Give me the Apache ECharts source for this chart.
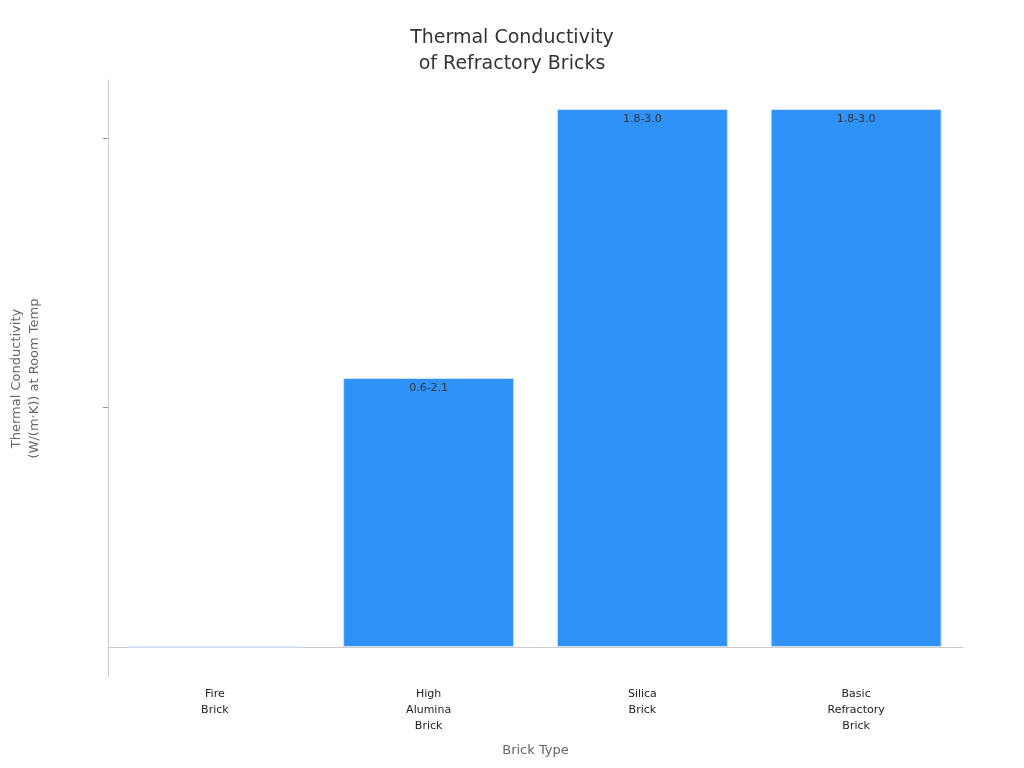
<!DOCTYPE html>
<html>
<head>
<meta charset="utf-8">
<script src="https://cdn.jsdelivr.net/npm/echarts@6/dist/echarts.min.js"></script>
<style>html,body{margin:0;padding:0;background:#fff}#chart{width:1024px;height:768px}</style>
</head>
<body>
<div id="chart"></div>
<script>
var categories = ['Fire\nBrick', 'High\nAlumina\nBrick', 'Silica\nBrick', 'Basic\nRefractory\nBrick'];
var levelLabels = ['0.3-0.7', '0.6-2.1', '1.8-3.0'];
var levels = [0, 1, 2, 2];

var chart = echarts.init(document.getElementById('chart'));
chart.setOption({
    title: {
        text: 'Thermal Conductivity\nof Refractory Bricks',
        left: 'center',
        top: 20,
        textStyle: {fontFamily: 'DejaVu Sans', fontSize: 19, fontWeight: 'normal', color: '#333', lineHeight: 26}
    },
    grid: {left: 107, right: 61, top: 80, bottom: 91},
    xAxis: {
        type: 'category',
        data: categories,
        name: 'Brick Type',
        nameLocation: 'middle',
        nameGap: 67,
        nameTextStyle: {fontFamily: 'DejaVu Sans', fontSize: 13, color: '#666'},
        axisLine: {lineStyle: {color: '#ccc'}},
        axisTick: {alignWithLabel: true, lineStyle: {color: '#999'}},
        axisLabel: {fontFamily: 'DejaVu Sans', fontSize: 11, color: '#222', lineHeight: 16, margin: 9}
    },
    yAxis: {
        type: 'value',
        min: -0.1115,
        max: 2.108,
        interval: 1,
        name: 'Thermal Conductivity\n(W/(m·K)) at Room Temp',
        nameLocation: 'middle',
        nameGap: 64,
        nameTextStyle: {fontFamily: 'DejaVu Sans', fontSize: 13, color: '#666', lineHeight: 18},
        splitLine: {show: false},
        axisLine: {show: true, lineStyle: {color: '#ccc'}},
        axisTick: {show: true, lineStyle: {color: '#999'}},
        axisLabel: {
            fontFamily: 'DejaVu Sans', fontSize: 11, color: '#222',
            showMinLabel: false, showMaxLabel: false,
            formatter: function (v) {
                var i = Math.round(v);
                return Math.abs(v - i) < 1e-6 && levelLabels[i] ? levelLabels[i] : '';
            }
        }
    },
    series: [{
        type: 'bar',
        data: levels,
        barWidth: 171,
        itemStyle: {color: '#2f92f8', borderColor: '#cfe3fb', borderWidth: 1},
        label: {
            show: true,
            position: 'insideTop',
            fontFamily: 'DejaVu Sans',
            fontSize: 11,
            color: '#333',
            formatter: function (p) { return p.value > 0 ? levelLabels[p.value] : ''; }
        }
    }]
});
</script>
</body>
</html>
